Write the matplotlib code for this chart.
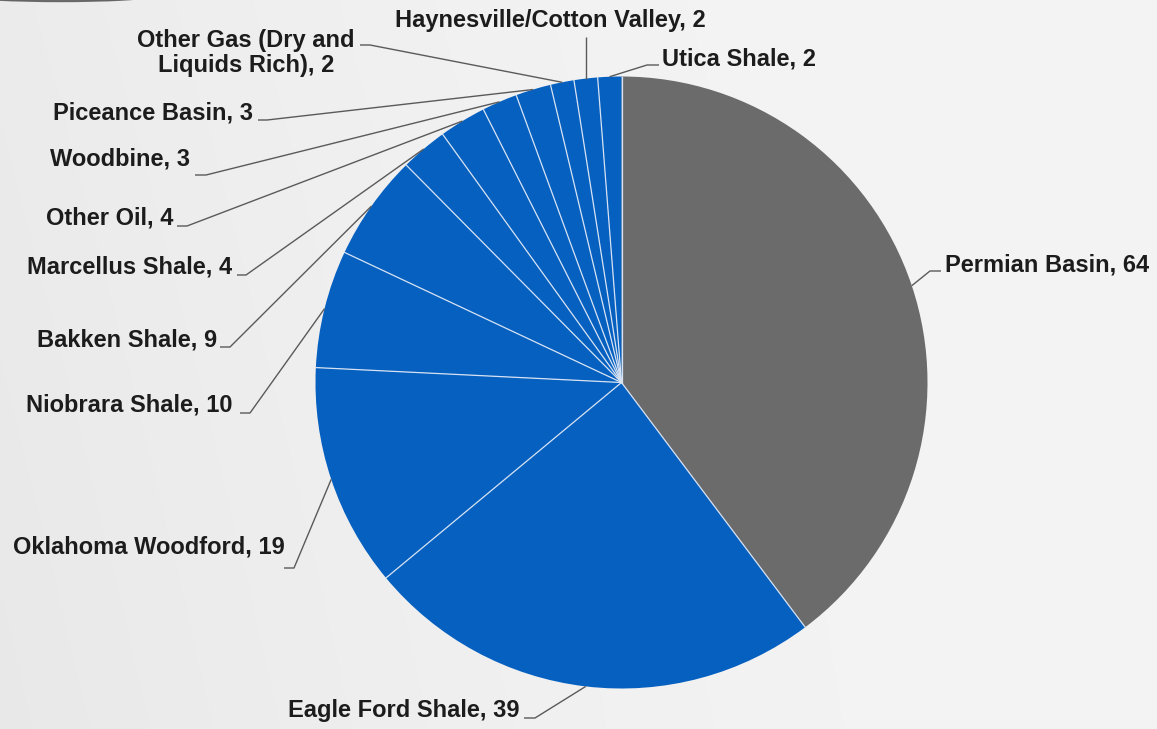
import numpy as np
import matplotlib
matplotlib.use("Agg")
import matplotlib.pyplot as plt
from matplotlib.patches import Ellipse

# Rig counts by play
plays = [
    "Permian Basin", "Eagle Ford Shale", "Oklahoma Woodford", "Niobrara Shale",
    "Bakken Shale", "Marcellus Shale", "Other Oil", "Woodbine",
    "Piceance Basin", "Other Gas (Dry and\nLiquids Rich)",
    "Haynesville/Cotton Valley", "Utica Shale",
]
rigs = [64, 39, 19, 10, 9, 4, 4, 3, 3, 2, 2, 2]

W, H = 1157, 729
fig = plt.figure(figsize=(W / 100, H / 100), dpi=100)
ax = fig.add_axes([0, 0, 1, 1])

# soft light-grey backdrop, a little darker toward the left
gx = np.linspace(0, 1, 300)
gy = np.linspace(0, 1, 200)
GX, GY = np.meshgrid(gx, gy)
bg = 0.955 - 0.035 * (1 - GX) ** 2 - 0.012 * GY * (1 - GX)
ax.imshow(bg, cmap="gray", vmin=0, vmax=1, extent=(0, W, H, 0),
          aspect="auto", zorder=0, interpolation="bilinear")
ax.add_patch(Ellipse((60, -3), 170, 9, color="#5a5a5a", alpha=0.85, zorder=1))

colors = ["#6b6b6b"] + ["#0560c0"] * (len(rigs) - 1)
cx, cy, R = 621.5, 382.5, 306
wedges, _ = ax.pie(
    rigs, colors=colors, center=(cx, cy), radius=R,
    startangle=-90, counterclock=True,
    wedgeprops=dict(linewidth=0),
)
for w in wedges:
    w.set_zorder(2)
    # thin light separator along each wedge's leading edge
    a = np.deg2rad(w.theta1)
    ax.plot([cx, cx + R * np.cos(a)], [cy, cy + R * np.sin(a)],
            color="#d6e2f3", lw=0.9, zorder=2.5)

ax.set_xlim(0, W)
ax.set_ylim(H, 0)
ax.set_aspect("equal")
ax.axis("off")

# label placement: (text x, text y, ha, leader elbow, leader end)
layout = [
    (945, 265, "left", (930, 271), (941, 271)),
    (520, 711, "right", (535, 718), (524, 718)),
    (285, 547, "right", (294, 568), (284, 568)),
    (233, 405, "right", (250, 413), (240, 413)),
    (217, 340, "right", (230, 347), (220, 347)),
    (232, 267, "right", (246, 275), (237, 275)),
    (173, 218, "right", (187, 226), (177, 226)),
    (190, 159, "right", (206, 175), (195, 175)),
    (253, 113, "right", (267, 120), (258, 120)),
    (246, 53, "center", (370, 45), (360, 45)),
    (550, 20, "center", None, (0, 37)),
    (662, 59, "left", (647, 65), (659, 65)),
]

for w, name, val, (tx, ty, ha, elbow, end) in zip(wedges, plays, rigs, layout):
    mid = np.deg2rad((w.theta1 + w.theta2) / 2)
    px, py = cx + R * np.cos(mid), cy + R * np.sin(mid)
    if elbow is None:
        xs, ys = [px, px], [py, end[1]]
    else:
        xs, ys = [px, elbow[0], end[0]], [py, elbow[1], end[1]]
    ax.plot(xs, ys, color="#5a5a5a", lw=1.0, zorder=3, solid_capstyle="butt")
    ax.text(tx, ty, f"{name}, {val}", ha=ha, va="center", ma="center",
            fontsize=17, fontweight="bold", family="Liberation Sans",
            color="#1c1c1c", zorder=4, linespacing=1.15)

fig.savefig("out.png", dpi=100)
